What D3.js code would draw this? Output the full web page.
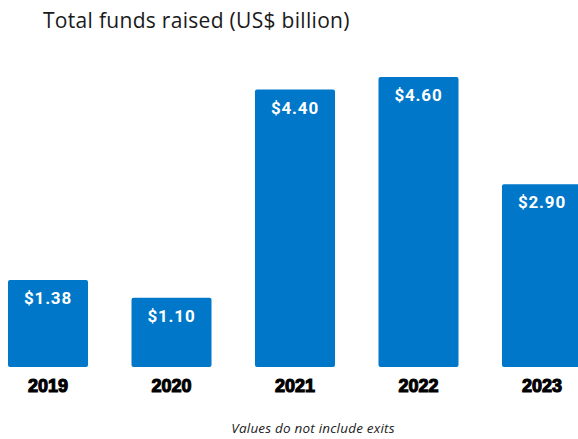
<!DOCTYPE html>
<html>
<head>
<meta charset="utf-8">
<script src="https://cdn.jsdelivr.net/npm/d3@7"></script>
<style>
  html, body { margin: 0; padding: 0; background: #ffffff; }
  svg { display: block; }
</style>
</head>
<body>
<script>
// Funds raised per year, US$ billion
const years = ["2019", "2020", "2021", "2022", "2023"];
const funds = [1.38, 1.10, 4.40, 4.60, 2.90];
const valueLabels = ["$1.38", "$1.10", "$4.40", "$4.60", "$2.90"];
const titleText = "Total funds raised (US$ billion)";
const noteText = "Values do not include exits";

const W = 578, H = 439;
const baseY = 367;

const svg = d3.select("body").append("svg")
  .attr("width", W).attr("height", H);

const x = d3.scaleBand()
  .domain(years)
  .range([8, 582])
  .paddingInner(0.352)
  .paddingOuter(0);

const y = d3.scaleLinear()
  .domain([0, 4.60])
  .range([baseY, 77]);

// Title
svg.append("text")
  .attr("x", 43).attr("y", 28)
  .attr("font-family", "'Open Sans', Lato, sans-serif")
  .attr("font-size", 21)
  .attr("letter-spacing", 0.3)
  .attr("fill", "#1a1a1a")
  .text(titleText);

// Bars
svg.append("g").selectAll("rect")
  .data(years)
  .join("rect")
  .attr("x", d => x(d))
  .attr("y", (d, i) => y(funds[i]))
  .attr("width", x.bandwidth())
  .attr("height", (d, i) => baseY - y(funds[i]))
  .attr("rx", 2)
  .attr("fill", "#0077c8");

// Value labels inside bar tops
svg.append("g").selectAll("text")
  .data(years)
  .join("text")
  .attr("x", d => x(d) + x.bandwidth() / 2)
  .attr("y", (d, i) => y(funds[i]) + 24)
  .attr("text-anchor", "middle")
  .attr("font-family", "Roboto, 'Liberation Sans', sans-serif")
  .attr("font-weight", 700)
  .attr("font-size", 17)
  .attr("letter-spacing", 0.8)
  .attr("fill", "#ffffff")
  .text((d, i) => valueLabels[i]);

// Category axis labels
const xAxis = d3.axisBottom(x).tickSize(0).tickPadding(0);
const gx = svg.append("g")
  .attr("transform", `translate(0,${baseY})`)
  .call(xAxis);
gx.select(".domain").remove();
gx.selectAll("text")
  .attr("y", 25)
  .attr("dy", 0)
  .attr("font-family", "'Liberation Sans', Arial, sans-serif")
  .attr("font-weight", 700)
  .attr("font-size", 18)
  .attr("fill", "#000000")
  .attr("stroke", "#000000")
  .attr("stroke-width", 1.1);

// Footnote
svg.append("text")
  .attr("x", 313).attr("y", 433)
  .attr("text-anchor", "middle")
  .attr("font-family", "'Open Sans', Lato, sans-serif")
  .attr("font-style", "italic")
  .attr("font-size", 13.5)
  .attr("letter-spacing", 0.2)
  .attr("fill", "#222222")
  .text(noteText);
</script>
</body>
</html>
